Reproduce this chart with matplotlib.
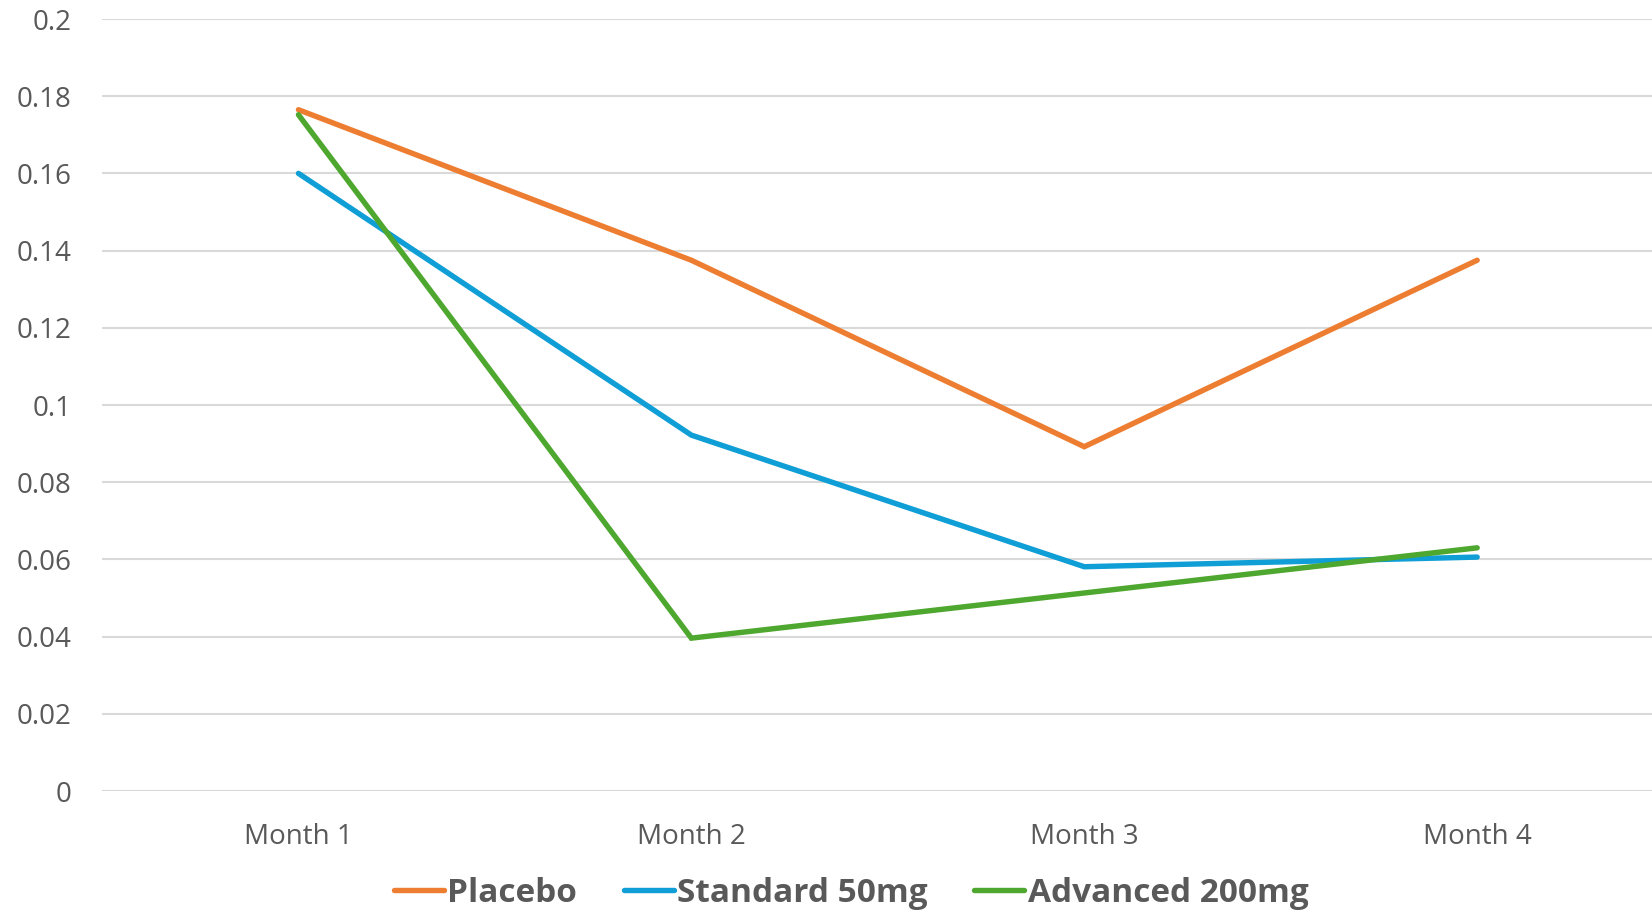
import matplotlib
matplotlib.use("Agg")
import matplotlib.pyplot as plt

categories = ["Month 1", "Month 2", "Month 3", "Month 4"]
placebo = [0.1765, 0.1375, 0.0892, 0.1375]
standard = [0.160, 0.0922, 0.0581, 0.0606]
advanced = [0.1752, 0.0396, 0.0513, 0.0630]
series_names = ["Placebo", "Standard 50mg", "Advanced 200mg"]
colors = ["#ED7D31", "#0F9ED5", "#4EA72E"]
yticks = [0, 0.02, 0.04, 0.06, 0.08, 0.1, 0.12, 0.14, 0.16, 0.18, 0.2]
ytick_labels = ["0", "0.02", "0.04", "0.06", "0.08", "0.1", "0.12", "0.14", "0.16", "0.18", "0.2"]

plt.rcParams['font.family'] = ['Open Sans', 'DejaVu Sans']
text_color = "#595959"

fig = plt.figure(figsize=(16.52, 9.13), dpi=100)
ax = fig.add_axes([102/1652, 1-791/913, 1-102/1652, (791-19)/913])

x = list(range(len(categories)))
handles = []
for vals, name, c in zip([placebo, standard, advanced], series_names, colors):
    h, = ax.plot(x, vals, color=c, lw=3.9, solid_capstyle='round', solid_joinstyle='miter', label=name, zorder=3)
    handles.append(h)

ax.set_ylim(0, 0.2)
ax.set_xlim(-0.5, 3.445)
ax.set_yticks(yticks)
ax.set_yticklabels(ytick_labels)
ax.set_xticks(x)
ax.set_xticklabels(categories)
ax.tick_params(axis='y', length=0, pad=22, labelsize=20, labelcolor=text_color)
ax.tick_params(axis='x', length=0, pad=23, labelsize=20, labelcolor=text_color)
ax.grid(axis='y', color="#D9D9D9", lw=1.5, zorder=0)
ax.set_axisbelow(True)
for s in ax.spines.values():
    s.set_visible(False)

fig.legend(handles=handles, labels=series_names, loc='center',
           bbox_to_anchor=(851/1652, 1-893/913), ncol=3, frameon=False,
           prop={'weight': 'bold', 'size': 24}, labelcolor=text_color,
           handlelength=1.5, handletextpad=0.1, columnspacing=1.4,
           borderpad=0.1)

fig.savefig("out.png", dpi=100)
